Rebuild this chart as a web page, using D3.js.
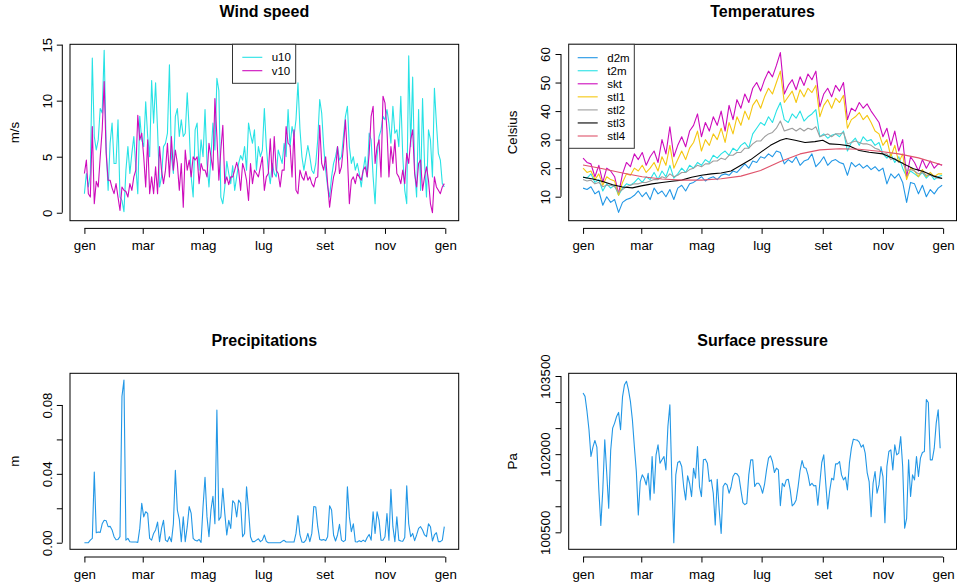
<!DOCTYPE html>
<html><head><meta charset="utf-8">
<script src="https://cdn.jsdelivr.net/npm/d3@7"></script>
<style>body{margin:0;background:#fff} svg{display:block} text{font-family:"Liberation Sans",Arial,Helvetica,sans-serif;fill:#000}</style>
</head><body><svg id="c" width="957" height="588"></svg>
<script>
// ---------- data ----------
const monthNames = ["gen","feb","mar","apr","mag","giu","lug","ago","set","ott","nov","dic"];
const tickMonths = [[2019,0],[2019,2],[2019,4],[2019,6],[2019,8],[2019,10],[2020,0]];
const windStep = 2;   // days between samples
const tempStep = 4;
const rainStep = 2;
const presStep = 2;

const u10 = [1.7,3.5,2.3,3.5,13.8,6.8,5.6,6.5,9.3,8.9,
14.5,5.9,2.0,6.2,8.0,4.4,4.4,8.3,1.4,1.1,
0.1,3.8,5.9,3.5,5.3,6.8,4.1,1.7,8.6,6.5,
5.9,9.9,6.8,5.0,11.8,8.0,11.6,7.4,2.3,3.2,
5.9,6.2,7.1,13.2,5.0,3.5,8.6,9.3,6.8,8.3,
6.8,7.1,10.7,7.4,3.2,1.4,7.4,8.0,3.8,6.5,
5.0,9.2,4.4,2.3,5.0,8.0,5.6,12.0,10.9,1.4,
0.8,2.3,4.6,3.5,2.6,4.2,2.0,3.2,4.4,
5.1,4.7,5.9,3.8,8.0,7.0,6.2,7.4,3.8,5.9,
5.0,5.6,9.3,5.9,3.8,2.6,4.4,3.5,3.2,5.6,
5.0,4.4,6.2,5.0,9.2,5.9,7.7,6.8,8.3,11.6,
7.5,5.0,3.8,4.9,6.0,5.0,3.8,3.5,4.4,6.5,
10.1,8.9,5.9,3.8,2.3,1.4,3.2,4.4,5.0,5.9,
4.7,5.0,6.8,8.6,9.5,5.9,4.4,5.0,3.8,4.4,
3.5,2.3,3.8,5.0,3.2,7.1,6.5,3.2,0.8,5.0,
6.8,7.4,8.6,8.3,9.2,8.0,6.2,9.5,7.1,7.4,
5.9,10.4,5.0,2.0,0.8,14.0,5.9,12.1,3.8,1.4,
9.2,2.0,10.2,4.4,1.4,7.4,6.5,3.2,11.1,8.0,
5.3,4.7,2.6,2.3];

const v10 = [3.5,4.7,1.7,1.4,7.7,0.8,2.8,2.3,5.0,7.4,
11.7,5.3,2.9,2.9,2.2,1.7,2.6,1.4,0.2,2.3,
2.0,1.9,1.4,2.6,2.0,3.2,3.8,8.7,6.5,7.1,
5.0,2.3,6.5,1.7,3.2,1.7,4.1,1.7,5.9,3.8,
2.6,3.8,6.2,3.2,6.8,3.8,5.6,4.4,2.0,4.4,
0.5,5.6,3.8,4.7,3.2,5.0,4.7,5.0,2.6,4.4,
3.8,3.8,3.2,6.2,5.0,3.8,10.2,6.8,2.9,5.6,
7.8,2.6,3.2,2.5,3.2,3.2,3.8,4.5,3.8,
2.0,4.4,3.8,2.9,1.1,4.4,2.6,3.8,3.5,3.2,
4.1,5.0,2.0,3.2,3.5,6.6,3.2,6.8,3.8,3.5,
2.3,3.8,3.8,7.7,6.2,6.0,3.2,7.4,2.0,1.7,
3.8,3.2,2.9,3.7,2.9,3.2,2.6,2.3,3.1,3.2,
7.8,4.4,3.8,5.0,2.6,0.5,2.0,3.2,3.8,5.9,
3.5,4.1,5.9,8.3,5.0,0.8,2.9,3.2,2.6,3.5,
3.2,2.9,3.8,4.1,3.2,5.3,8.6,9.5,4.4,5.9,
6.5,3.2,10.4,9.8,7.4,3.2,5.9,4.4,6.5,3.5,
3.2,2.6,3.8,2.6,5.3,4.4,6.5,7.4,3.5,2.3,
4.4,4.7,2.0,3.2,4.1,2.9,0.8,0.0,3.2,2.3,
2.0,1.7,2.3,2.6];

const d2m = [13,12.5,13.5,11,12,7,10,8,9,4.5,
8,9,9.5,10.5,12,10,11.5,9,13,11,
12,10,12.5,9,13,14,12,14.5,15,16,
17,15.5,16.5,17,16,17.5,18,17.5,19,18.5,
20,21.5,20,22.5,22,24,23.5,25,24,26,
25.5,21.5,23,22,24,21,22.5,23,25,20.5,
22,24,21,22.5,23,22,21.5,17.5,22,20.5,
21.5,20,21,19.5,20.5,19,20,14.5,18,16.5,
18,15,8,15,14.5,11,14,10,12.5,11,
13,14];

const t2m = [17,16.5,18,15,16,12,14.5,13,14,10.5,
13,14.5,14,15,16.5,15,17,16,18.5,16,
19,17,21,16.5,18,20,18.5,21,20,22,
21,23,22,24.5,23.5,25,26,24.5,27,26,
28,29,27,32,34,36,35,38,36,40,
43,37,36,39,37.5,40,36.5,38,39,40.5,
31,32,30.5,31.5,32,31,33,26,29,30.5,
28,31,29.5,30,28,29,25,23.5,25,22,
24,20,17,19,18,17,18.5,16.5,18,16,
17,17.5];

const skt = [23.5,22,21.5,17,21,15,20,19,17,11,
18,22,20.5,25,23,25.5,21,24,26,22,
30,25,34.5,24,28,31,27.5,33,35,39,
31,36,33,38,35,40,33,42,37,44,
41,46,43,48,50,47,51,54,52,56,
60.5,46,49,51,47.5,52,49,53,51,54,
41.5,46,48,45,49,47,50,37,41,40,
43,41,42.5,40,38,36,31,34,28,33,
26,30,17,24,22,19,23,20,22.5,20,
21.5,21];

const stl1 = [20,18.5,19,16,18,14,17,16,15.5,10.5,
15,18,17.5,20,19,21,18.5,20,22,19,
24,21,28,20,23,26,23,27,29,33,
26,30,28,32,30,34,29,36,32,38,
35,40,37,42,44,41,45,48,46,50,
54,43,45,47,43,47.5,45,48,46.5,49,
38,42,44,41,44.5,43,45.5,34,37,38,
39.5,37,38.5,36,33,32,28,30,24,28,
22,25,16,20,19,17,19.5,17,18.5,17,
18,18];

const stl2 = [16,15.5,15.8,14.5,15,13.5,14,14,13.5,11.5,
12.5,13.5,14,14.5,14.5,15,15,15.5,16,16,
17,16.5,18,17,17.5,18.5,18.5,19.5,20,21,
20.5,21.5,21.5,22.5,22.5,23.5,23,24.5,24.5,25.5,
25.5,27,27,28.5,29.5,29.5,31,32,32.5,34,
36.5,33,33.5,34,33,34,33,34,33.5,34.5,
31,31.5,32,31,32,32,32.5,28.5,29,29.5,
29,28.5,28.5,28,27,26.5,25,25,23,23.5,
22,22,19,19.5,19,18,18.5,17.5,17.5,17,
16.5,16.5];

const stl3Days = [0,10,20,30,40,50,59,70,80,90,100,110,120,130,140,150,160,170,181,190,200,206,215,225,235,243,250,260,270,280,290,304,315,325,335,345,355,364];
const stl3 = [16.8,16.2,15.3,14.2,13.4,13.1,13.8,14.5,15,15.4,15.8,16.8,17.5,18,18.3,19,21,23,25.8,28,29.8,30.4,29.8,29,29.3,29.8,28.5,28.3,27.8,26.2,25.6,25,23.3,21.5,19.8,18.8,17.3,16.4];

const stl4Days = [0,20,40,60,80,100,120,140,160,180,200,220,240,260,280,300,320,340,364];
const stl4 = [21.1,19.8,18.3,17,16.2,15.8,15.8,16.3,17.2,19.2,22.3,25,26.4,26.8,26.6,25.9,25,23.6,21.1];

const tp = [0,0,0,0.0015,0.0025,0.041,0.0058,0.0062,0.006,0.011,
0.013,0.0128,0.0093,0.0095,0.0074,0.0035,0.0017,0.0019,0.0035,0.085,
0.0945,0.0015,0.0025,0.0006,0.0004,0.0004,0.0004,0.0002,0.0083,0.0229,
0.015,0.018,0.017,0.0025,0.0015,0.0054,0.0074,0.012,0.0006,0.0083,
0.013,0.0015,0.0006,0.0035,0.0006,0.011,0.042,0.019,0.0136,0.0006,
0.015,0.0006,0.0093,0.021,0.017,0.0025,0.0014,0.001,0.0019,0.0002,
0.021,0.038,0.015,0.0035,0.019,0.027,0.011,0.077,0.013,0.015,
0.0316,0.017,0.0045,0.013,0.0083,0.0244,0.0229,0.015,0.0248,
0.0229,0.0035,0.0054,0.0325,0.019,0.0035,0.0006,0.0006,0.0015,0.0023,
0.0006,0.0015,0.0045,0.0008,0,0,0,0,0,0,
0,0.0008,0.0014,0.0004,0.0004,0.0004,0.0004,0.0004,0.0054,0.0157,
0.0045,0.0004,0.0002,0.0015,0.0054,0.0006,0.0054,0.021,0.0207,0.0093,
0.0019,0.0015,0.0019,0.0012,0.0035,0.0215,0.019,0.0045,0.001,0.0045,
0.0107,0.0015,0.0006,0.0015,0.0325,0.015,0.0064,0.011,0.0006,0.0004,
0.0012,0.0006,0.0015,0.0006,0.003,0.0048,0.0015,0.018,0.0054,0.018,
0.013,0.0015,0.0014,0.0035,0.017,0.0015,0.031,0.0093,0.0006,0.015,
0.0015,0.001,0.0008,0.003,0.033,0.011,0.0035,0.0054,0.0012,0.0045,
0.0083,0.0093,0.0074,0.0045,0.0035,0.011,0.0093,0.001,0.0045,0.0058,
0.0006,0.0006,0.0015,0.0093];

const sp = [103173,103109,102820,102468,101955,102135,102263,102135,101314,100630,
101314,102276,101634,100962,102070,102500,102596,102724,102801,102468,
103100,103333,103400,103237,103013,102660,102147,101667,100833,101474,
101602,101538,101410,101634,101122,101955,101250,101987,102180,101827,
101891,101955,101699,102532,102949,101506,100301,101602,101840,101865,
101763,101378,101122,101583,101442,101186,101731,101538,102147,101378,
101186,101891,101904,101827,101474,101506,101250,100641,101519,100929,
100480,101378,101442,101410,101250,101365,101570,101634,101622,
101570,101314,101070,101032,101058,101602,101891,101891,101378,101442,
101442,101378,101250,101423,101699,101923,101968,101859,101647,101731,
101699,101013,101442,101378,101506,101519,101314,101006,101045,101122,
101378,101686,101878,101744,101731,101602,101397,101442,101391,101397,
101020,101442,101840,101987,101442,100950,101295,101538,101506,101814,
101814,101859,101602,101506,101558,101314,101827,102115,102288,102276,
102269,102231,102135,102180,102019,101647,101474,100800,101442,101667,
101250,101410,101763,101570,100686,101763,102051,102083,101699,102180,
101987,102019,102340,101763,100580,100769,101891,101186,101602,101506,
101955,101570,101923,102032,102051,103050,102990,101891,101891,102115,
102596,102852,102115];

const windTicks = [0,5,10,15];
const tempTicks = [10,20,30,40,50,60];
const rainTicks = [0,0.02,0.04,0.06,0.08];
const rainLabels = [0,0.04,0.08];
const presTicks = [100500,101000,101500,102000,102500,103000,103500];
const presLabels = [100500,102000,103500];

// ---------- drawing ----------
const svg = d3.select("#c");
const DAY = 86400000, T0 = Date.UTC(2019,0,1);
const dayDate = d => new Date(T0 + d*DAY);
const tickDates = tickMonths.map(([y,m]) => new Date(Date.UTC(y,m,1)));
const FS = 13.3;

const withDays = (vals, stepOrDays) => vals.map((v,i) => ({day: Array.isArray(stepOrDays) ? stepOrDays[i] : i*stepOrDays, v}));

function panel(o){
  const {l,r,t,b} = o.box;
  const g = svg.append("g");
  const x = d3.scaleUtc().domain([dayDate(-14.56), dayDate(378.56)]).range([l, r]);
  const y = d3.scaleLinear().domain(o.yDomain).range([b, t]);

  const line = d3.line().x(d => x(dayDate(d.day))).y(d => y(d.v));
  o.series.forEach(s => {
    g.append("path").datum(s.data).attr("d", line)
      .attr("fill","none").attr("stroke", s.color).attr("stroke-width", 1.1)
      .attr("stroke-linejoin","round");
  });

  g.append("rect").attr("x", l).attr("y", t).attr("width", r-l).attr("height", b-t)
    .attr("fill","none").attr("stroke","#000").attr("stroke-width",1);

  const ax = g.append("g").attr("transform", `translate(0,${b+7.7})`)
    .call(d3.axisBottom(x).tickValues(tickDates).tickSize(5.5)
      .tickFormat(d => monthNames[d.getUTCMonth()]));
  ax.select(".domain").remove();
  ax.append("line").attr("x1", x(tickDates[0])).attr("x2", x(tickDates[tickDates.length-1]))
    .attr("stroke","#000");
  ax.selectAll(".tick line").attr("stroke","#000");
  ax.selectAll(".tick text").attr("y", 21.6).attr("dy", 0)
    .style("font-size", FS+"px").style("font-family", '"Liberation Sans",Arial,sans-serif').attr("fill","#000");

  const labelSet = new Set(o.yLabels || o.yTicks);
  const ay = g.append("g").attr("transform", `translate(${l-7.7},0)`)
    .call(d3.axisLeft(y).tickValues(o.yTicks).tickSize(5.5)
      .tickFormat(d => labelSet.has(d) ? o.yFormat(d) : ""));
  ay.select(".domain").remove();
  ay.append("line").attr("y1", y(o.yTicks[0])).attr("y2", y(o.yTicks[o.yTicks.length-1]))
    .attr("stroke","#000");
  ay.selectAll(".tick line").attr("stroke","#000");
  ay.selectAll(".tick text").attr("x", 0).attr("y", -10.6).attr("dy", 0)
    .attr("text-anchor","middle").attr("transform","rotate(-90)")
    .style("font-size", FS+"px").style("font-family", '"Liberation Sans",Arial,sans-serif').attr("fill","#000");

  g.append("text").attr("x", (l+r)/2).attr("y", t-27.5).attr("text-anchor","middle")
    .style("font-size","16px").style("font-weight","bold").text(o.title);
  g.append("text").attr("transform", `translate(${l-51.5},${(t+b)/2}) rotate(-90)`)
    .attr("text-anchor","middle").style("font-size", FS+"px").text(o.ylab);

  if (o.legend){
    const L = o.legend;
    const lx = L.x, ly = t;
    g.append("rect").attr("x", lx).attr("y", ly).attr("width", L.w).attr("height", L.h)
      .attr("fill","#fff").attr("stroke","#333").attr("stroke-width",1);
    L.items.forEach((it,i) => {
      const yy = ly + L.first + i*L.gap;
      g.append("line").attr("x1", lx+L.lineX0).attr("x2", lx+L.lineX1)
        .attr("y1", yy).attr("y2", yy).attr("stroke", it.color).attr("stroke-width",1.1);
      g.append("text").attr("x", lx+L.textX).attr("y", yy+4).style("font-size","11.5px").text(it.name);
    });
  }
}

const C = {cyan:"#28E2E5", mag:"#CD0BBC", blue:"#2297E6", gold:"#F5C710", gray:"#9E9E9E", black:"#000000", red:"#DF536B"};
const fmtInt = d => String(d);

panel({
  box:{l:70, r:458.7, t:44.3, b:220.7}, yDomain:[-0.71, 15.03], yTicks:windTicks, yFormat:fmtInt,
  title:"Wind speed", ylab:"m/s",
  series:[{data:withDays(u10, windStep), color:C.cyan},{data:withDays(v10, windStep), color:C.mag}],
  legend:{x:232.5, w:63.2, h:39, first:13, gap:13.4, lineX0:9.8, lineX1:29.8, textX:39.2,
    items:[{name:"u10",color:C.cyan},{name:"v10",color:C.mag}]}
});

panel({
  box:{l:568.7, r:956.5, t:44.3, b:220.7}, yDomain:[1.59, 63.4], yTicks:tempTicks, yFormat:fmtInt,
  title:"Temperatures", ylab:"Celsius",
  series:[
    {data:withDays(d2m, tempStep), color:C.blue},
    {data:withDays(t2m, tempStep), color:C.cyan},
    {data:withDays(skt, tempStep), color:C.mag},
    {data:withDays(stl1, tempStep), color:C.gold},
    {data:withDays(stl2, tempStep), color:C.gray},
    {data:withDays(stl3, stl3Days), color:C.black},
    {data:withDays(stl4, stl4Days), color:C.red}],
  legend:{x:568.7, w:65.6, h:104, first:13.4, gap:13.05, lineX0:9, lineX1:29, textX:38.6,
    items:[{name:"d2m",color:C.blue},{name:"t2m",color:C.cyan},{name:"skt",color:C.mag},
      {name:"stl1",color:C.gold},{name:"stl2",color:C.gray},{name:"stl3",color:C.black},{name:"stl4",color:C.red}]}
});

panel({
  box:{l:70, r:458.7, t:373.3, b:549.3}, yDomain:[-0.00383, 0.0984], yTicks:rainTicks, yLabels:rainLabels,
  yFormat:d3.format(".2f"), title:"Precipitations", ylab:"m",
  series:[{data:withDays(tp, rainStep), color:C.blue}]
});

panel({
  box:{l:568.7, r:956.5, t:373.3, b:549.3}, yDomain:[100174, 103552], yTicks:presTicks, yLabels:presLabels,
  yFormat:fmtInt, title:"Surface pressure", ylab:"Pa",
  series:[{data:withDays(sp, presStep), color:C.blue}]
});
</script></body></html>
